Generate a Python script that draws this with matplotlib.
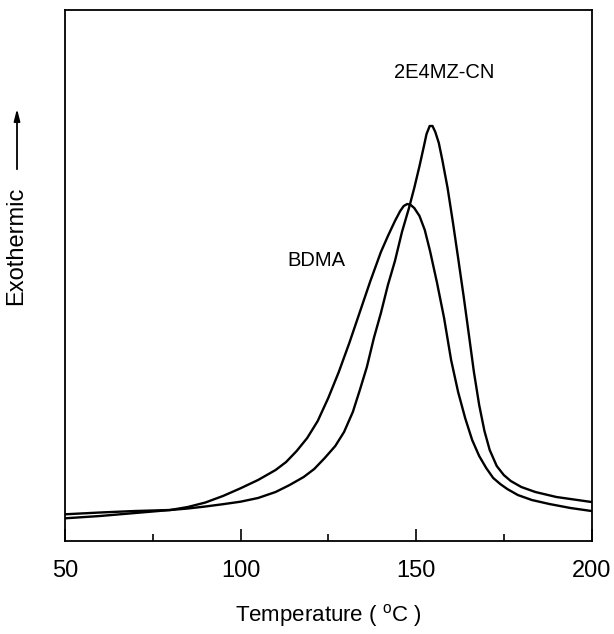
import matplotlib
matplotlib.use('Agg')
import matplotlib.pyplot as plt

plt.rcParams['font.family'] = ['Liberation Sans', 'DejaVu Sans']
plt.rcParams['mathtext.fontset'] = 'custom'
plt.rcParams['mathtext.rm'] = 'Liberation Sans'

# DSC traces, heat flow in arbitrary units
t_bdma = [50, 60, 70, 80, 85, 90, 95, 100, 105, 110, 113, 116, 119, 122,
          125, 128, 131, 134, 137, 140, 142, 144, 145.5, 146.5, 147.5, 148.5,
          149.5, 151, 152.5, 154, 156, 158, 160, 162, 164, 166, 168, 170,
          172, 174, 176, 179, 183, 188, 194, 200]
hf_bdma = [22.7, 25, 28, 31, 34, 38.5, 45, 52.7, 61, 71, 79, 90, 103, 120,
           143, 169, 198, 229, 260, 289, 305, 320, 330, 335, 337, 336,
           333, 325, 311, 290, 258, 223, 181, 149, 123, 101, 85, 73,
           63, 57, 52, 46, 41, 37, 33, 30]

t_2e4mz = [50, 60, 70, 80, 85, 90, 95, 100, 105, 110, 114, 118, 121, 124,
           127, 129.5, 132, 134, 136, 138, 140, 142, 144, 146, 148, 149.5,
           151, 152.2, 153, 153.9, 154.7, 155.5, 156.5, 157.5, 159, 160.5,
           162, 163.6, 165, 166.5, 168, 169.5, 171, 173, 175, 177, 180,
           184, 190, 200]
hf_2e4mz = [26.7, 28.5, 30, 31, 32.5, 34.5, 36.8, 39.3, 43, 49, 56, 64, 72, 83,
            95, 109, 129, 151, 174, 203, 228, 256, 280, 309, 333, 353,
            375, 394, 407, 415, 415, 409, 398, 381, 353, 319,
            283, 244, 208, 169, 136, 110, 91, 75, 66, 60, 54,
            49, 44, 39]

fig = plt.figure(figsize=(6.14, 6.34), dpi=100)
ax = fig.add_axes([65 / 614, 1 - 541 / 634, 526.5 / 614, 531 / 634])

ax.plot(t_bdma, hf_bdma, color='black', linewidth=1.7)
ax.plot(t_2e4mz, hf_2e4mz, color='black', linewidth=1.7)

ax.set_xlim(50, 200)
ax.set_ylim(0, 531)
ax.set_xticks([50, 100, 150, 200])
ax.set_xticks([75, 125, 175], minor=True)
ax.set_yticks([])
ax.tick_params(axis='x', which='major', direction='in', length=9, width=1.2,
               pad=14, labelsize=17)
ax.tick_params(axis='x', which='minor', direction='in', length=5, width=1.2)
for s in ax.spines.values():
    s.set_linewidth(1.3)

ax.text(158, 469, '2E4MZ-CN', fontsize=14.5, ha='center', va='center')
ax.text(121.5, 281, 'BDMA', fontsize=14.5, ha='center', va='center')

ax.set_xlabel(r'Temperature ( $^\mathrm{o}$C )', fontsize=16, labelpad=14)

fig.text(16 / 614, 1 - 246 / 634, 'Exothermic', rotation=90, fontsize=17,
         ha='center', va='center')
ax.annotate('', xy=(17 / 614, 1 - 106 / 634), xytext=(17 / 614, 1 - 172 / 634),
            xycoords='figure fraction', textcoords='figure fraction',
            arrowprops=dict(arrowstyle='-|>,head_length=0.7,head_width=0.18',
                            color='black', linewidth=1.3))

plt.savefig('out.png', dpi=100)
